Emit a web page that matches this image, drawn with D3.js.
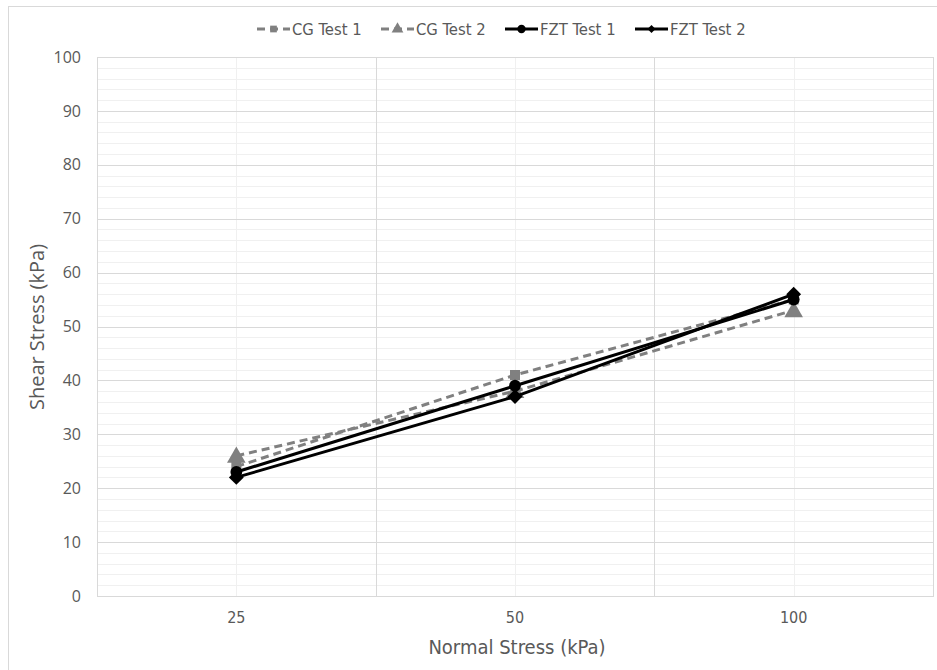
<!DOCTYPE html>
<html>
<head>
<meta charset="utf-8">
<script src="https://cdn.jsdelivr.net/npm/d3@7"></script>
<style>
  body { margin: 0; background: #fff; }
  svg { display: block; }
</style>
</head>
<body>
<div id="chart"></div>
<script>
/* DATA */
var categories = ["25", "50", "100"];
var cgTest1 = [24, 41, 55];
var cgTest2 = [26, 38, 53];
var fztTest1 = [23, 39, 55];
var fztTest2 = [22, 37, 56];
var yTicks = [0, 10, 20, 30, 40, 50, 60, 70, 80, 90, 100];
var seriesNames = ["CG Test 1", "CG Test 2", "FZT Test 1", "FZT Test 2"];

/* SETUP */
var width = 937;
var height = 670;
var margin = {top: 57, right: 4, bottom: 74, left: 97};
var condensed = "'DejaVu Sans Condensed', 'DejaVu Sans', sans-serif";
var textColor = "#595959";

var svg = d3.select("#chart")
  .append("svg")
  .attr("width", width)
  .attr("height", height);

// outer chart border
svg.append("rect")
  .attr("x", 8.5).attr("y", 6.5)
  .attr("width", 940).attr("height", 680)
  .attr("fill", "none")
  .attr("stroke", "#d9d9d9");

var x = d3.scaleBand()
  .domain(categories)
  .range([margin.left, width - margin.right])
  .padding(0);

var y = d3.scaleLinear()
  .domain([0, 100])
  .range([height - margin.bottom, margin.top]);

function cx(c) { return x(c) + x.bandwidth() / 2; }

var grid = svg.append("g");

// minor horizontal gridlines every 2
grid.selectAll(".minorH")
  .data(d3.range(0, 101, 2).filter(function(d) { return d % 10 !== 0; }))
  .enter().append("line")
  .attr("x1", margin.left).attr("x2", width - margin.right)
  .attr("y1", function(d) { return Math.round(y(d)) + 0.5; })
  .attr("y2", function(d) { return Math.round(y(d)) + 0.5; })
  .attr("stroke", "#f0f0f0");

// minor vertical gridlines at category centres
grid.selectAll(".minorV")
  .data(categories)
  .enter().append("line")
  .attr("x1", function(d) { return Math.round(cx(d)) + 0.5; })
  .attr("x2", function(d) { return Math.round(cx(d)) + 0.5; })
  .attr("y1", y(100)).attr("y2", y(0))
  .attr("stroke", "#f0f0f0");

// major horizontal gridlines
grid.selectAll(".majorH")
  .data(yTicks)
  .enter().append("line")
  .attr("x1", margin.left).attr("x2", width - margin.right)
  .attr("y1", function(d) { return Math.round(y(d)) + 0.5; })
  .attr("y2", function(d) { return Math.round(y(d)) + 0.5; })
  .attr("stroke", "#d9d9d9");

// major vertical gridlines at category boundaries
grid.selectAll(".majorV")
  .data(categories.slice(1))
  .enter().append("line")
  .attr("x1", function(d) { return Math.round(x(d)) + 0.5; })
  .attr("x2", function(d) { return Math.round(x(d)) + 0.5; })
  .attr("y1", y(100)).attr("y2", y(0))
  .attr("stroke", "#d9d9d9");

// plot border
grid.append("rect")
  .attr("x", margin.left + 0.5).attr("y", Math.round(y(100)) + 0.5)
  .attr("width", width - margin.right - margin.left)
  .attr("height", Math.round(y(0)) - Math.round(y(100)))
  .attr("fill", "none")
  .attr("stroke", "#d9d9d9");

// y axis labels
var yAxis = d3.axisLeft(y).tickValues(yTicks).tickSize(0).tickPadding(16);
svg.append("g")
  .attr("transform", "translate(" + margin.left + ",0)")
  .call(yAxis)
  .call(function(g) { g.select(".domain").remove(); })
  .selectAll("text")
  .attr("fill", textColor)
  .style("font-family", "'Open Sans', sans-serif")
  .style("font-size", "16px");

// x axis labels
var xAxis = d3.axisBottom(x).tickSize(0).tickPadding(16);
svg.append("g")
  .attr("transform", "translate(0," + y(0) + ")")
  .call(xAxis)
  .call(function(g) { g.select(".domain").remove(); })
  .selectAll("text")
  .attr("fill", textColor)
  .style("font-family", condensed)
  .style("font-size", "16px");

// axis titles
svg.append("text")
  .attr("x", 517).attr("y", 654)
  .attr("text-anchor", "middle")
  .attr("fill", textColor)
  .style("font-family", condensed)
  .style("font-size", "20px")
  .text("Normal Stress (kPa)");

svg.append("text")
  .attr("transform", "translate(44,327) rotate(-90)")
  .attr("text-anchor", "middle")
  .attr("fill", textColor)
  .style("font-family", "'Open Sans', sans-serif")
  .style("font-size", "20px")
  .text("Shear Stress (kPa)");

/* SERIES */
var series = [
  {name: seriesNames[0], values: cgTest1, color: "#808080", dash: "8,5", marker: "square"},
  {name: seriesNames[1], values: cgTest2, color: "#808080", dash: "8,5", marker: "triangle"},
  {name: seriesNames[2], values: fztTest1, color: "#000000", dash: null, marker: "circle"},
  {name: seriesNames[3], values: fztTest2, color: "#000000", dash: null, marker: "diamond"}
];

// a diamond as wide as it is tall (rotated square)
var squareDiamond = {
  draw: function(context, size) {
    var r = Math.sqrt(size / 2);
    context.moveTo(0, -r);
    context.lineTo(r, 0);
    context.lineTo(0, r);
    context.lineTo(-r, 0);
    context.closePath();
  }
};

var symbolTypes = {
  square: d3.symbolSquare,
  triangle: d3.symbolTriangle,
  circle: d3.symbolCircle,
  diamond: squareDiamond
};
var symbolSizes = {square: 100, triangle: 150, circle: 110, diamond: 110};
var legendSizes = {square: 45, triangle: 60, circle: 55, diamond: 32};

var line = d3.line()
  .x(function(d, i) { return cx(categories[i]); })
  .y(function(d) { return y(d); });

var plot = svg.append("g");

series.forEach(function(s) {
  var g = plot.append("g");
  g.append("path")
    .datum(s.values)
    .attr("d", line)
    .attr("fill", "none")
    .attr("stroke", s.color)
    .attr("stroke-width", 3)
    .attr("stroke-dasharray", s.dash);
  g.selectAll("path.pt")
    .data(s.values)
    .enter().append("path")
    .attr("class", "pt")
    .attr("d", d3.symbol().type(symbolTypes[s.marker]).size(symbolSizes[s.marker]))
    .attr("transform", function(d, i) {
      var dy = s.marker === "triangle" ? 1.5 : 0;
      return "translate(" + cx(categories[i]) + "," + (y(d) + dy) + ")";
    })
    .attr("fill", s.color);
});

/* LEGEND */
var legendX = [257, 381, 505, 635];
var legend = svg.append("g");
series.forEach(function(s, i) {
  var g = legend.append("g").attr("transform", "translate(" + legendX[i] + ",29)");
  g.append("line")
    .attr("x1", 0).attr("x2", 33)
    .attr("stroke", s.color)
    .attr("stroke-width", 3)
    .attr("stroke-dasharray", s.dash ? "8,5" : null);
  g.append("path")
    .attr("d", d3.symbol().type(symbolTypes[s.marker]).size(legendSizes[s.marker]))
    .attr("transform", "translate(16.5,0)")
    .attr("fill", s.color);
  g.append("text")
    .attr("x", 35).attr("y", 5.5)
    .attr("fill", textColor)
    .style("font-family", condensed)
    .style("font-size", "16.5px")
    .text(s.name);
});
</script>
</body>
</html>
